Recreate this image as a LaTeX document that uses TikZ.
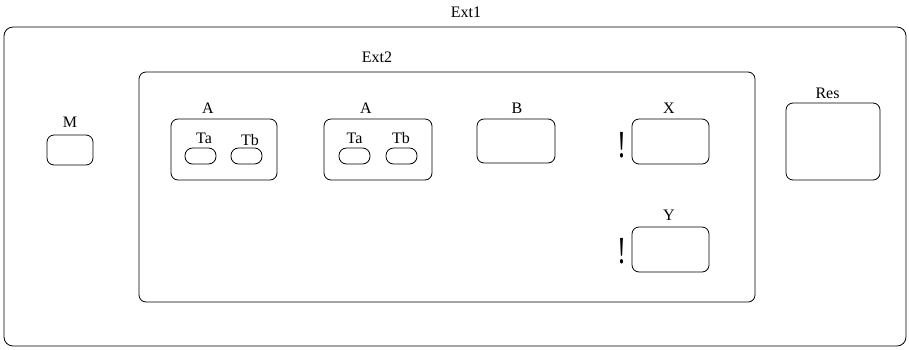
\documentclass[tikz,border=0pt]{standalone}
\usepackage{fontspec}
\setmainfont{Liberation Serif}
\begin{document}
\begin{tikzpicture}[x=1pt,y=-1pt,
  box/.style={draw,line width=0.8pt,rounded corners=7pt},
  port/.style={draw,line width=0.8pt,rounded corners=7.5pt},
  lbl/.style={inner sep=0pt,anchor=base,font=\fontsize{16}{18}\selectfont},
  bang/.style={inner sep=0pt,anchor=base,font=\fontsize{27}{29}\selectfont}]
\useasboundingbox (0,0) rectangle (909,349);
% outer and inner containers
\draw[box,rounded corners=9pt] (4,27) rectangle (906,346);
\node[lbl] (ext1) at (466,17) {Ext1};
\draw[box] (139,72) rectangle (755,302);
\node[lbl] (ext2) at (377,62) {Ext2};
% M
\draw[box] (47,135) rectangle (93,165);
\node[lbl] (m) at (70,127) {M};
% first A with ports
\draw[box] (171,119) rectangle (277,180);
\node[lbl] (a1) at (208,113) {A};
\draw[port] (185,148) rectangle (216,164);
\node[lbl] (ta1) at (204,143) {Ta};
\draw[port] (231,148) rectangle (262,164);
\node[lbl] (tb1) at (250,145) {Tb};
% second A with ports
\draw[box] (324,119) rectangle (432,180);
\node[lbl] (a2) at (366,113) {A};
\draw[port] (339,148) rectangle (370,164);
\node[lbl] (ta2) at (354.5,143) {Ta};
\draw[port] (386,148) rectangle (417,164);
\node[lbl] (tb2) at (401,143) {Tb};
% B
\draw[box] (477,119) rectangle (555,163);
\node[lbl] (b) at (517,113) {B};
% X and Y, each marked with a tall exclamation sign
\draw[box] (632,119) rectangle (709,164);
\node[lbl] (x) at (669,113) {X};
\node[bang] (bx) at (622,157) {\scalebox{1}[1.42]{!}};
\draw[box] (632,227) rectangle (709,272);
\node[lbl] (y) at (669,220) {Y};
\node[bang] (by) at (622,263) {\scalebox{1}[1.42]{!}};
% Res
\draw[box] (786,103) rectangle (880,180);
\node[lbl] (res) at (827.5,98) {Res};
\end{tikzpicture}
\end{document}
